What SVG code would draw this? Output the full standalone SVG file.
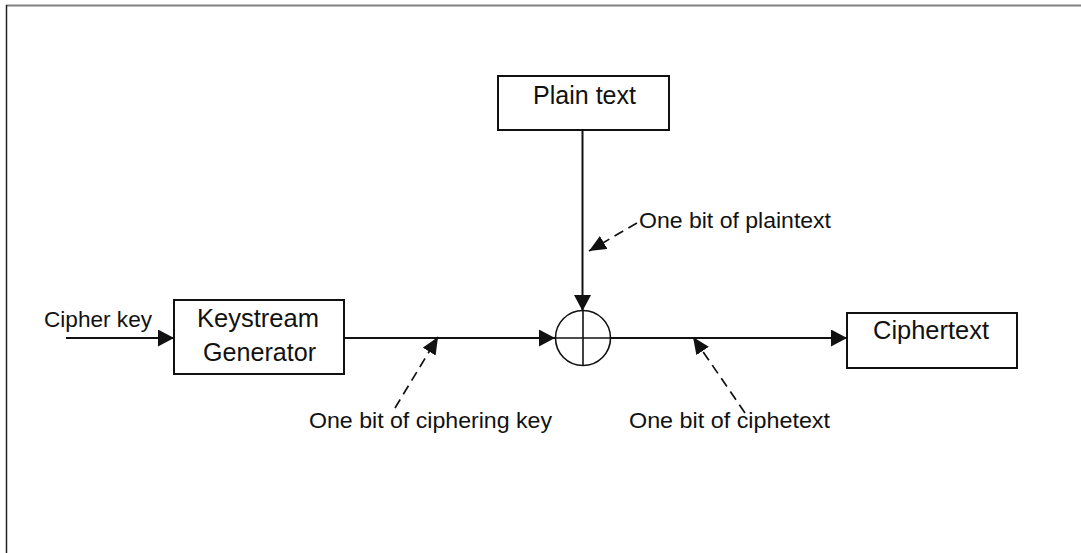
<svg xmlns="http://www.w3.org/2000/svg" width="1081" height="553" viewBox="0 0 1081 553">
<style>
.box{fill:#fff;stroke:#111;stroke-width:2}
.ln{fill:none;stroke:#111;stroke-width:2}
.dash{fill:none;stroke:#111;stroke-width:1.7;stroke-dasharray:10 6}
.big{font-family:"Liberation Sans",Arial,sans-serif;font-size:25px;fill:#111}
.lbl{font-family:"Liberation Sans",Arial,sans-serif;font-size:22px;fill:#111}
</style>
<defs>
<marker id="ah" markerUnits="userSpaceOnUse" markerWidth="17" markerHeight="18" refX="16" refY="8.5" orient="auto">
<path d="M0,0 L16,8.5 L0,17 z" fill="#111"/>
</marker>
<marker id="ahs" markerUnits="userSpaceOnUse" markerWidth="18" markerHeight="16" refX="17" refY="7.5" orient="auto">
<path d="M0,0 L17,7.5 L0,15 z" fill="#111"/>
</marker>
</defs>
<rect width="1081" height="553" fill="#fff"/>
<g id="frame">
<line x1="6" y1="5.5" x2="1081" y2="5.5" stroke="#808080" stroke-width="2"/>
<line x1="6.5" y1="5" x2="6.5" y2="553" stroke="#222" stroke-width="1.5"/>
</g>
<g id="connectors">
<line class="ln" x1="66" y1="338" x2="174" y2="338" marker-end="url(#ah)"/>
<line class="ln" x1="344" y1="338" x2="555" y2="338" stroke-width="1.6" marker-end="url(#ah)"/>
<line class="ln" x1="611" y1="338" x2="847" y2="338" marker-end="url(#ah)"/>
<line class="ln" x1="582.5" y1="131" x2="582.5" y2="311" marker-end="url(#ah)"/>
<line class="dash" x1="637" y1="223" x2="589" y2="251" marker-end="url(#ahs)"/>
<line class="dash" x1="395" y1="408" x2="438" y2="337" marker-end="url(#ahs)"/>
<line class="dash" x1="745" y1="413" x2="693" y2="337" marker-end="url(#ahs)"/>
</g>
<g id="xor">
<circle cx="583" cy="338" r="27.5" fill="none" stroke="#111" stroke-width="1.6"/>
<line x1="583" y1="311" x2="583" y2="365" stroke="#111" stroke-width="1.6"/>
<line x1="555" y1="338" x2="611" y2="338" stroke="#111" stroke-width="1.6"/>
</g>
<g id="plain-text">
<rect class="box" x="498" y="76" width="171" height="54"/>
<text class="big" x="533" y="104" textLength="103" lengthAdjust="spacingAndGlyphs">Plain text</text>
</g>
<g id="keystream-generator">
<rect class="box" x="174" y="300" width="170" height="74"/>
<text class="big" x="197" y="327" textLength="122" lengthAdjust="spacingAndGlyphs">Keystream</text>
<text class="big" x="203" y="361" textLength="113" lengthAdjust="spacingAndGlyphs">Generator</text>
</g>
<g id="ciphertext">
<rect class="box" x="847" y="313" width="170" height="55"/>
<text class="big" x="873" y="339" textLength="116" lengthAdjust="spacingAndGlyphs">Ciphertext</text>
</g>
<g id="labels">
<text class="lbl" x="44" y="327" textLength="108" lengthAdjust="spacingAndGlyphs">Cipher key</text>
<text class="lbl" x="639" y="228" textLength="192" lengthAdjust="spacingAndGlyphs">One bit of plaintext</text>
<text class="lbl" x="309" y="428" textLength="243" lengthAdjust="spacingAndGlyphs">One bit of ciphering key</text>
<text class="lbl" x="629" y="428" textLength="201" lengthAdjust="spacingAndGlyphs">One bit of ciphetext</text>
</g>
</svg>
